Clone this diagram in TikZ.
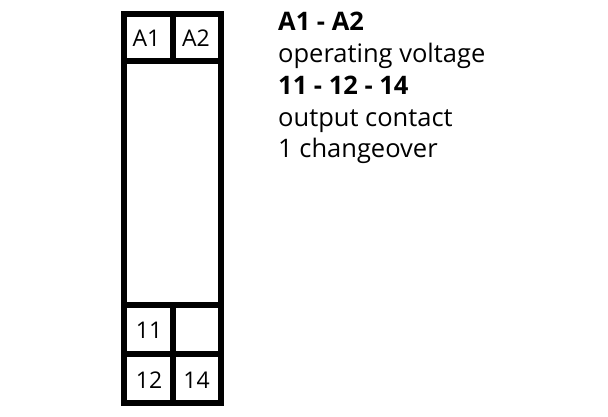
\documentclass[tikz,border=0pt]{standalone}
\usepackage{fontspec}
\setmainfont{Open Sans}
\begin{document}
\begin{tikzpicture}[x=1pt,y=-1pt,
  frame/.style={line width=6pt, line cap=rect},
  cell/.style={font=\fontsize{23}{25}\selectfont, inner sep=0pt},
  desc/.style={font=\fontsize{25.5}{28}\selectfont, anchor=base west, inner sep=0pt},
  descb/.style={desc, font=\fontsize{25.5}{28}\selectfont\bfseries}]
\useasboundingbox (0,0) rectangle (608,416);
% frame
\draw[frame] (124,13.5) rectangle (221,403);
\draw[frame] (124,61) -- (221,61);
\draw[frame] (124,305) -- (221,305);
\draw[frame] (124,354) -- (221,354);
\draw[frame] (172.5,13.5) -- (172.5,61);
\draw[frame] (172.5,305) -- (172.5,403);
% terminal labels
\node[cell] (a1) at (146.5,38.5) {A1};
\node[cell] (a2) at (196,38.5) {A2};
\node[cell] (t11) at (149,330) {11};
\node[cell] (t12) at (149,380) {12};
\node[cell] (t14) at (196.5,380) {14};
% description
\node[descb] (d1) at (278,30) {A1 - A2};
\node[desc] (d2) at (278,62.5) {operating voltage};
\node[descb] (d3) at (278,94) {11 - 12 - 14};
\node[desc] (d4) at (278,126) {output contact};
\node[desc] (d5) at (278,157) {1 changeover};
\end{tikzpicture}
\end{document}
